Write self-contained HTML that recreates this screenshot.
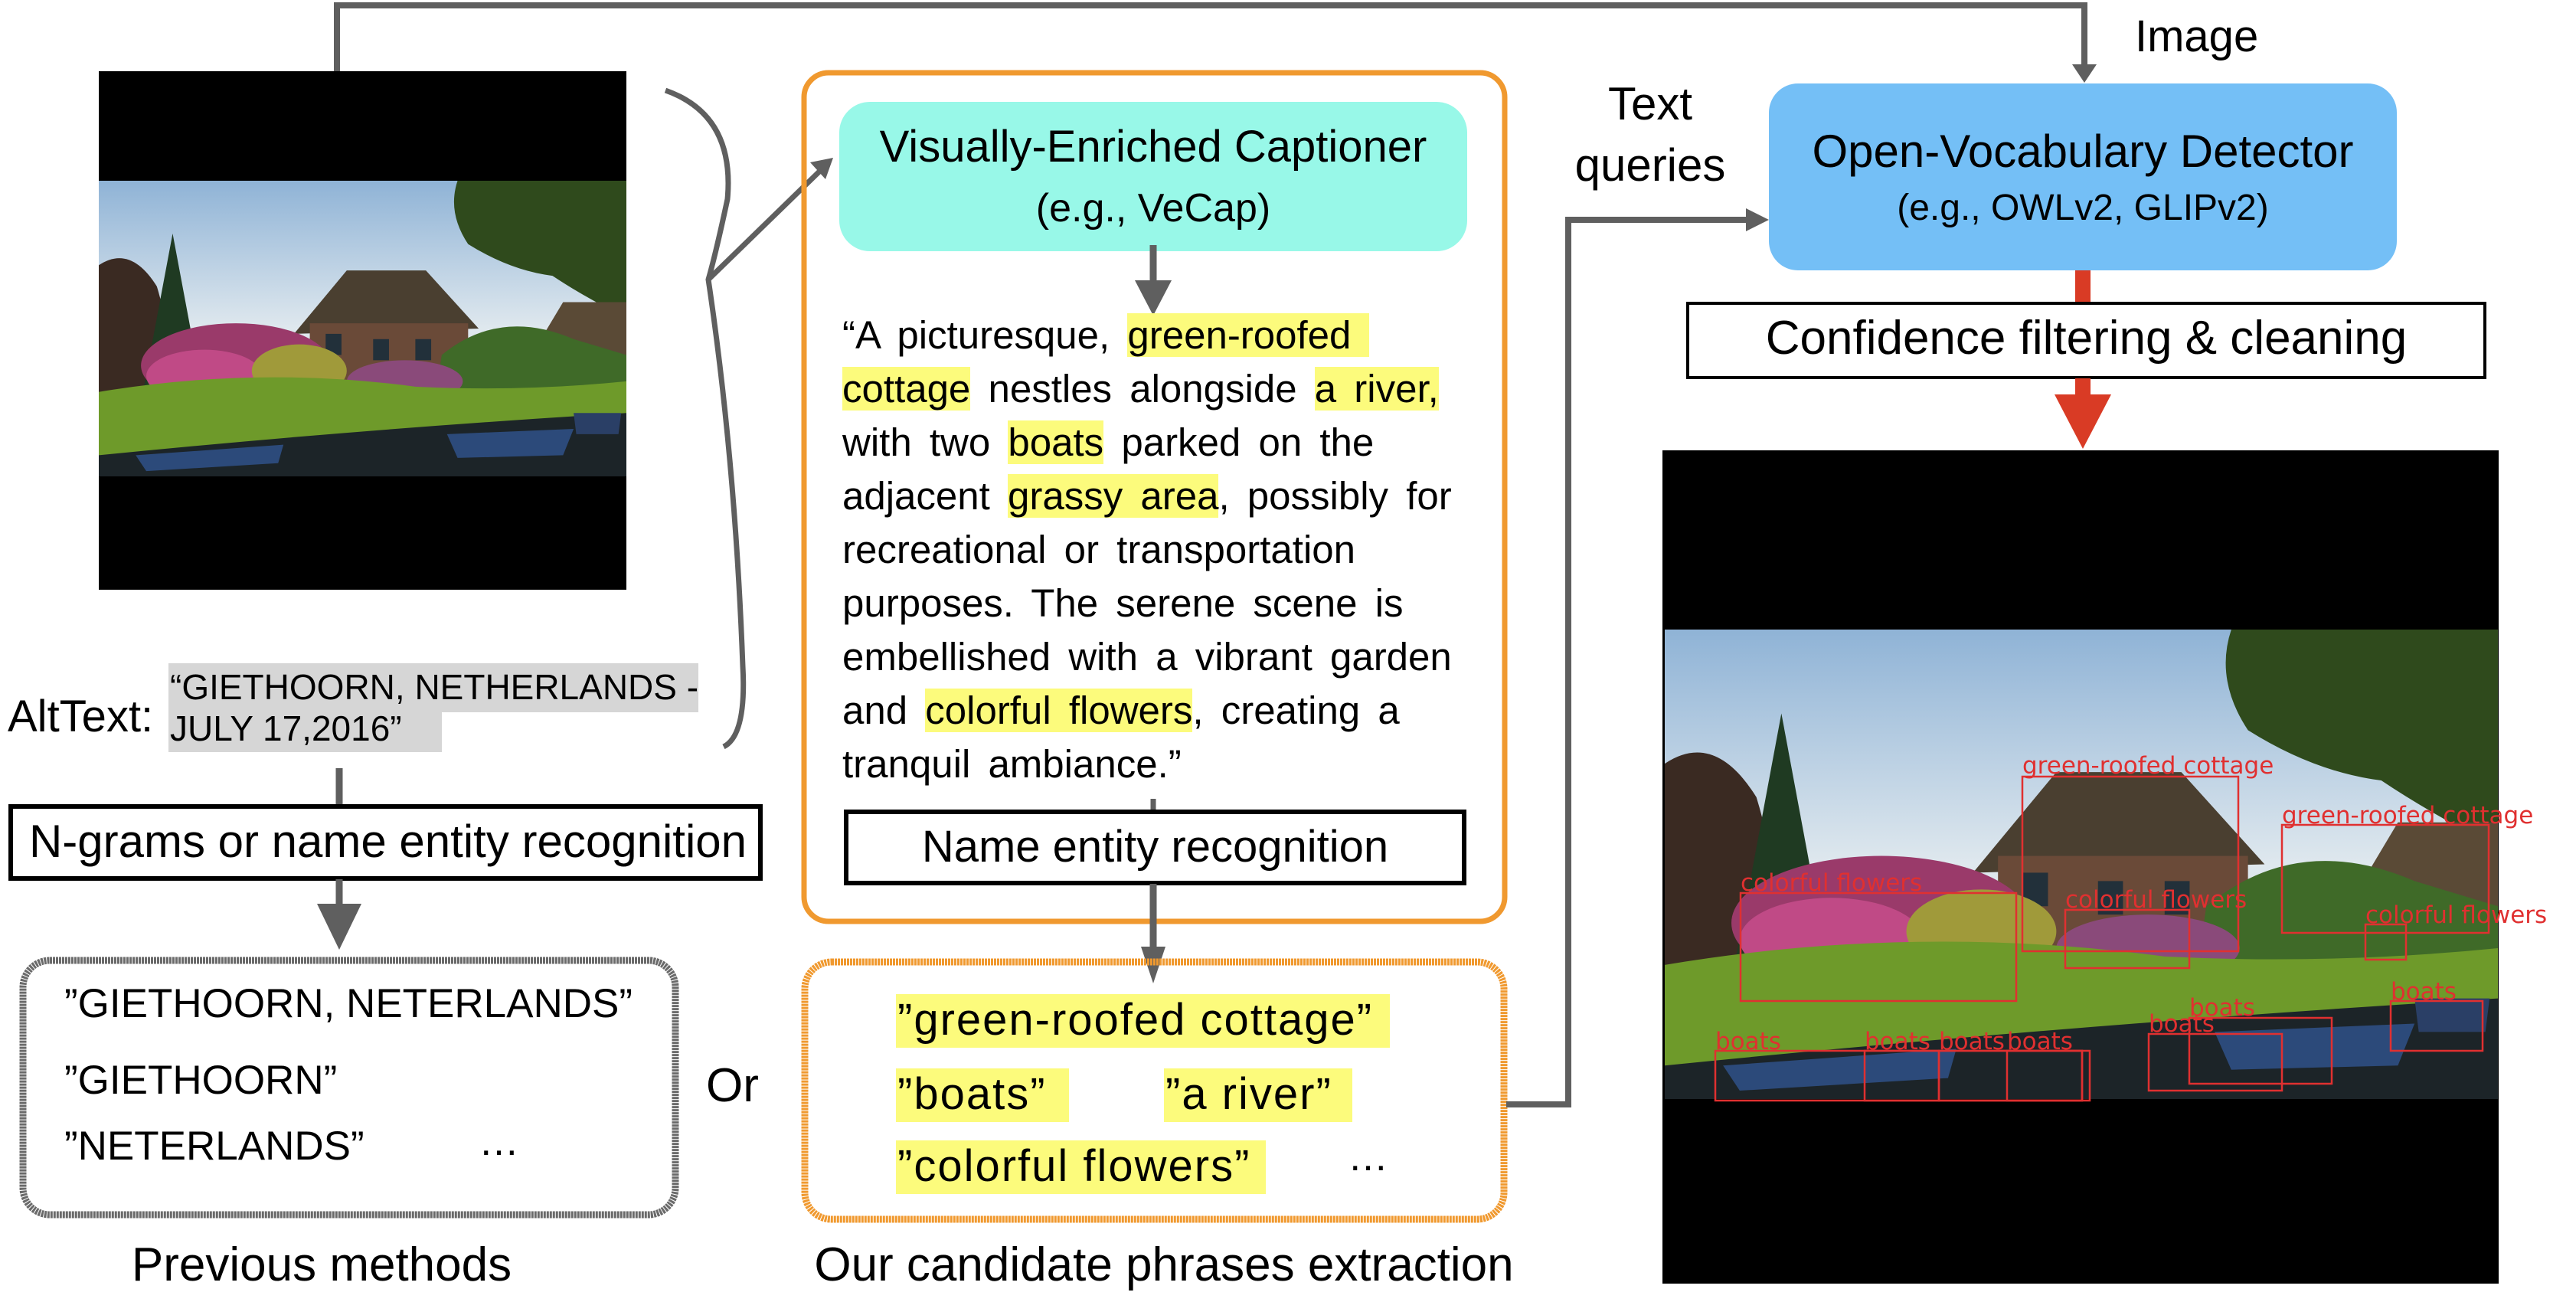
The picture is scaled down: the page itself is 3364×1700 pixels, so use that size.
<!DOCTYPE html>
<html><head><meta charset="utf-8"><style>
html,body{margin:0;padding:0;background:#fff}
#c{position:relative;width:3364px;height:1700px;overflow:hidden;font-family:"Liberation Sans",Arial,sans-serif;color:#000}
.t{position:absolute;white-space:nowrap}
.cap{position:absolute;left:1100px;font-size:51px;line-height:64px;white-space:nowrap;word-spacing:9px}
.h{background:#fcfb7c}
</style></head><body><div id="c">
<svg width="3364" height="1700" style="position:absolute;left:0;top:0">
<defs>
<symbol id="ph" viewBox="0 0 1000 560" preserveAspectRatio="none">
<linearGradient id="sky" x1="0" y1="0" x2="0" y2="1"><stop offset="0" stop-color="#8fb3d6"/><stop offset="0.5" stop-color="#dfe8ee"/><stop offset="1" stop-color="#c9d6dc"/></linearGradient>
<rect width="1000" height="560" fill="url(#sky)"/>
<path d="M680 0 L1000 0 L1000 260 Q920 220 860 180 Q780 170 700 120 Q660 60 680 0Z" fill="#2f4a1c"/>
<path d="M0 160 Q60 120 110 200 Q150 330 120 450 L0 470Z" fill="#3a2a22"/>
<path d="M80 420 L140 100 L200 420Z" fill="#1f3a22"/>
<path d="M370 290 L470 170 L620 170 L720 280Z" fill="#4a3f30"/>
<rect x="400" y="270" width="300" height="120" fill="#6a4a38"/>
<rect x="430" y="290" width="30" height="40" fill="#22303a"/><rect x="520" y="300" width="30" height="40" fill="#22303a"/><rect x="600" y="300" width="30" height="40" fill="#22303a"/>
<path d="M820 330 L880 230 L1000 230 L1000 360Z" fill="#5a4a36"/>
<path d="M650 330 Q760 240 900 300 L1000 330 L1000 400 L640 400Z" fill="#3f6a28"/>
<ellipse cx="260" cy="350" rx="180" ry="80" fill="#9a3a6a"/>
<ellipse cx="200" cy="370" rx="110" ry="50" fill="#c04a86"/>
<ellipse cx="380" cy="360" rx="90" ry="50" fill="#a09a3a"/>
<ellipse cx="580" cy="380" rx="110" ry="40" fill="#8a4a7a"/>
<path d="M0 400 Q300 350 600 390 Q800 400 1000 380 L1000 470 Q600 480 0 540Z" fill="#6e9a2a"/>
<path d="M0 520 Q500 470 1000 440 L1000 560 L0 560Z" fill="#1c2428"/>
<path d="M70 520 L350 500 L340 535 L90 550Z" fill="#2c4a7a"/><path d="M660 480 L900 470 L880 520 L680 525Z" fill="#2c4a7a"/><path d="M900 440 L990 440 L985 480 L905 480Z" fill="#2a3f66"/>
</symbol>
</defs>
<polyline points="440,93 440,7 2722,7 2722,88" fill="none" stroke="#5f5f5f" stroke-width="8"/>
<polygon points="2706,84 2738,84 2722,108" fill="#5f5f5f"/>
<rect x="129" y="93" width="689" height="677" fill="#000"/>
<use href="#ph" x="129" y="236" width="689" height="386"/>
<path d="M869 118 Q960 150 950 260 Q935 330 925 365 Q960 600 970 870 Q975 960 945 975" fill="none" stroke="#5f5f5f" stroke-width="7"/>
<line x1="925" y1="365" x2="1072" y2="222" stroke="#5f5f5f" stroke-width="7"/>
<polygon points="1088,206 1058,212 1078,234" fill="#5f5f5f"/>
<rect x="220" y="866" width="692" height="64" fill="#d6d6d6"/>
<rect x="220" y="930" width="357" height="52" fill="#d6d6d6"/>
<line x1="443" y1="1003" x2="443" y2="1052" stroke="#5f5f5f" stroke-width="9"/>
<rect x="14" y="1053" width="979" height="94" fill="#fff" stroke="#000" stroke-width="6"/>
<line x1="443" y1="1148" x2="443" y2="1190" stroke="#5f5f5f" stroke-width="9"/>
<polygon points="414,1180 472,1180 443,1240" fill="#5f5f5f"/>
<rect x="30" y="1254" width="852" height="332" rx="35" fill="none" stroke="#6a6a6a" stroke-width="9" stroke-dasharray="3 1"/>
<rect x="1050" y="95" width="915" height="1108" rx="32" fill="none" stroke="#f0992f" stroke-width="7"/>
<rect x="1096" y="133" width="820" height="195" rx="40" fill="#98f8e8"/>
<line x1="1506" y1="320" x2="1506" y2="370" stroke="#5f5f5f" stroke-width="9"/>
<polygon points="1482,366 1530,366 1506,412" fill="#5f5f5f"/>
<line x1="1506" y1="1043" x2="1506" y2="1060" stroke="#5f5f5f" stroke-width="7"/>
<rect x="1105" y="1060" width="807" height="93" fill="#fff" stroke="#000" stroke-width="6"/>
<line x1="1506" y1="1154" x2="1506" y2="1240" stroke="#5f5f5f" stroke-width="9"/>
<polygon points="1490,1236 1522,1236 1506,1284" fill="#5f5f5f"/>
<rect x="1051" y="1256" width="913" height="336" rx="35" fill="none" stroke="#f0992f" stroke-width="9" stroke-dasharray="3 1"/>
<rect x="1170" y="1298" width="645" height="70" fill="#fcfb7c"/>
<rect x="1170" y="1395" width="226" height="70" fill="#fcfb7c"/>
<rect x="1520" y="1395" width="246" height="70" fill="#fcfb7c"/>
<rect x="1170" y="1489" width="483" height="70" fill="#fcfb7c"/>
<polyline points="1967,1442 2048,1442 2048,287 2285,287" fill="none" stroke="#5f5f5f" stroke-width="8"/>
<polygon points="2280,272 2310,287 2280,302" fill="#5f5f5f"/>
<rect x="2310" y="109" width="820" height="244" rx="38" fill="#74bff6"/>
<line x1="2720" y1="353" x2="2720" y2="398" stroke="#d93b25" stroke-width="20"/>
<rect x="2204" y="396" width="1041" height="97" fill="#fff" stroke="#000" stroke-width="4"/>
<line x1="2720" y1="494" x2="2720" y2="520" stroke="#d93b25" stroke-width="20"/>
<polygon points="2683,515 2757,515 2720,586" fill="#d93b25"/>
<rect x="2171" y="588" width="1092" height="1088" fill="#000"/>
<use href="#ph" x="2174" y="822" width="1088" height="613"/>
<g fill="none" stroke="#e03030" stroke-width="2.5">
<rect x="2641" y="1014" width="282" height="228"/>
<rect x="2980" y="1077" width="270" height="141"/>
<rect x="2273" y="1166" width="360" height="141"/>
<rect x="2697" y="1188" width="162" height="76"/>
<rect x="3089" y="1207" width="53" height="46"/>
<rect x="2240" y="1372" width="479" height="65"/>
<rect x="2435" y="1372" width="97" height="65"/>
<rect x="2532" y="1372" width="197" height="65"/>
<rect x="2621" y="1372" width="98" height="65"/>
<rect x="2806" y="1350" width="174" height="74"/>
<rect x="2859" y="1329" width="186" height="86"/>
<rect x="3122" y="1307" width="120" height="65"/>
</g>
<g fill="#e03030" font-family="DejaVu Sans, sans-serif" font-size="31">
<text x="2641" y="1010">green-roofed cottage</text>
<text x="2980" y="1075">green-roofed cottage</text>
<text x="2273" y="1163">colorful flowers</text>
<text x="2697" y="1185">colorful flowers</text>
<text x="3089" y="1205">colorful flowers</text>
<text x="2240" y="1370">boats</text><text x="2435" y="1370">boats</text><text x="2532" y="1370">boats</text><text x="2621" y="1370">boats</text>
<text x="2806" y="1347">boats</text><text x="2859" y="1326">boats</text><text x="3122" y="1305">boats</text>
</g>
</svg>
<div class="t" style="left:10px;top:902px;font-size:58px">AltText:</div>
<div class="t" style="left:222px;top:870px;font-size:46px;line-height:54px">“GIETHOORN, NETHERLANDS -<br>JULY 17,2016”</div>
<div class="t" style="left:14px;top:1064px;width:985px;text-align:center;font-size:60px">N-grams or name entity recognition</div>
<div class="t" style="left:84px;top:1280px;font-size:53px">”GIETHOORN, NETERLANDS”</div>
<div class="t" style="left:84px;top:1380px;font-size:53px">”GIETHOORN”</div>
<div class="t" style="left:84px;top:1466px;font-size:53px">”NETERLANDS”</div>
<div class="t" style="left:625px;top:1460px;font-size:53px">…</div>
<div class="t" style="left:922px;top:1382px;font-size:62px">Or</div>
<div class="t" style="left:100px;top:1616px;width:640px;text-align:center;font-size:62px">Previous methods</div>
<div class="t" style="left:1096px;top:158px;width:820px;text-align:center;font-size:58px">Visually-Enriched Captioner</div>
<div class="t" style="left:1096px;top:242px;width:820px;text-align:center;font-size:52px">(e.g., VeCap)</div>
<div class="cap" style="top:406px">“A picturesque, <span class="h">green-roofed&nbsp;</span></div>
<div class="cap" style="top:476px"><span class="h">cottage</span> nestles alongside <span class="h">a river,</span></div>
<div class="cap" style="top:546px">with two <span class="h">boats</span> parked on the</div>
<div class="cap" style="top:616px">adjacent <span class="h">grassy area</span>, possibly for</div>
<div class="cap" style="top:686px">recreational or transportation</div>
<div class="cap" style="top:756px">purposes. The serene scene is</div>
<div class="cap" style="top:826px">embellished with a vibrant garden</div>
<div class="cap" style="top:896px">and <span class="h">colorful flowers</span>, creating a</div>
<div class="cap" style="top:966px">tranquil ambiance.”</div>
<div class="t" style="left:1105px;top:1072px;width:807px;text-align:center;font-size:58px">Name entity recognition</div>
<div class="t" style="left:1172px;top:1298px;font-size:58px;letter-spacing:2px">”green-roofed cottage”</div>
<div class="t" style="left:1172px;top:1395px;font-size:58px;letter-spacing:2px">”boats”</div>
<div class="t" style="left:1522px;top:1395px;font-size:58px;letter-spacing:2px">”a river”</div>
<div class="t" style="left:1172px;top:1489px;font-size:58px;letter-spacing:2px">”colorful flowers”</div>
<div class="t" style="left:1760px;top:1480px;font-size:53px">…</div>
<div class="t" style="left:1040px;top:1616px;width:960px;text-align:center;font-size:62px">Our candidate phrases extraction</div>
<div class="t" style="left:2030px;top:96px;width:250px;text-align:center;font-size:60px;line-height:80px">Text<br>queries</div>
<div class="t" style="left:2788px;top:14px;font-size:58px">Image</div>
<div class="t" style="left:2310px;top:163px;width:820px;text-align:center;font-size:60px">Open-Vocabulary Detector</div>
<div class="t" style="left:2310px;top:244px;width:820px;text-align:center;font-size:48px">(e.g., OWLv2, GLIPv2)</div>
<div class="t" style="left:2204px;top:406px;width:1041px;text-align:center;font-size:62px">Confidence filtering &amp; cleaning</div>
</div></body></html>
